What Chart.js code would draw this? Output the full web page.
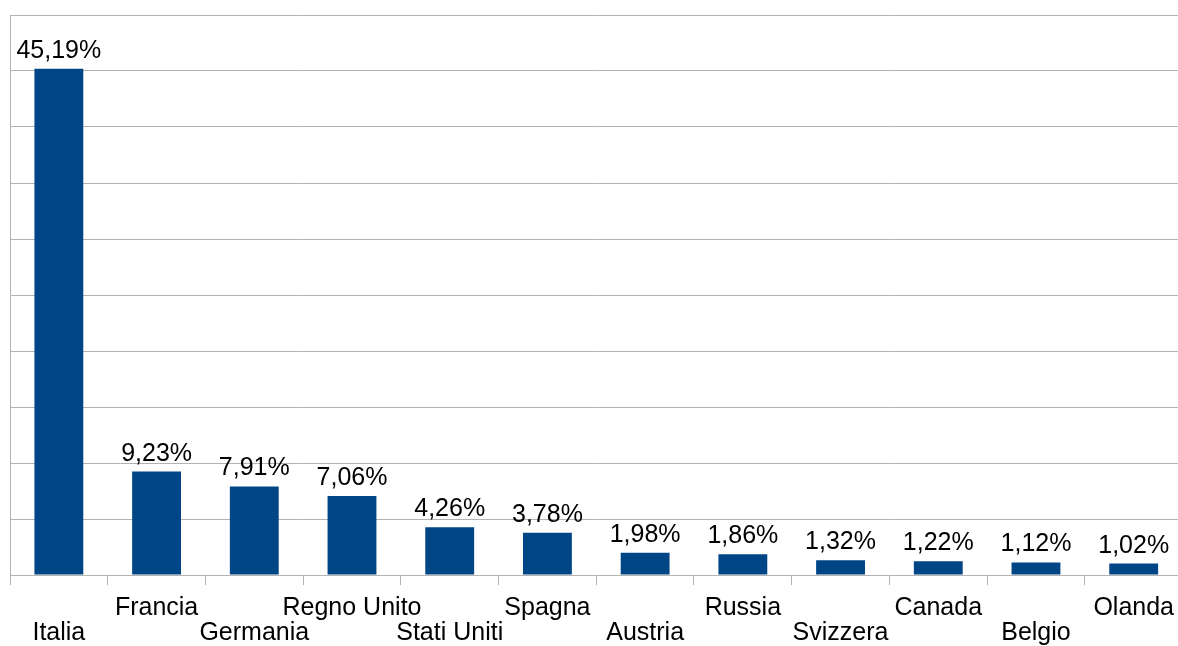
<!DOCTYPE html>
<html>
<head>
<meta charset="utf-8">
<script src="https://cdn.jsdelivr.net/npm/chart.js@4/dist/chart.umd.min.js"></script>
<style>
  html, body { margin: 0; padding: 0; background: #fff; overflow: hidden; }
  #wrap { width: 1185px; height: 657px; position: relative; }
</style>
</head>
<body>
<div id="wrap"><canvas id="barChart"></canvas></div>
<script>
const countries = ["Italia", "Francia", "Germania", "Regno Unito", "Stati Uniti", "Spagna",
  "Austria", "Russia", "Svizzera", "Canada", "Belgio", "Olanda"];
const shares = [45.19, 9.23, 7.91, 7.06, 4.26, 3.78, 1.98, 1.86, 1.32, 1.22, 1.12, 1.02];
const yTicks = [0, 5, 10, 15, 20, 25, 30, 35, 40, 45, 50];

const fmt = v => v.toFixed(2).replace(".", ",") + "%";

// value labels above each bar
const valueLabels = {
  id: "valueLabels",
  afterDatasetsDraw(chart) {
    const ctx = chart.ctx;
    const meta = chart.getDatasetMeta(0);
    ctx.save();
    ctx.font = "25px 'Liberation Sans', Arial, sans-serif";
    ctx.fillStyle = "#000";
    ctx.textAlign = "center";
    ctx.textBaseline = "alphabetic";
    meta.data.forEach((bar, i) => {
      ctx.fillText(fmt(shares[i]), bar.x, bar.y - 11);
    });
    ctx.restore();
  }
};

let ctx = document.getElementById("barChart").getContext("2d");
let myChart = new Chart(ctx, {
  type: "bar",
  data: {
    labels: countries,
    datasets: [{
      data: shares,
      backgroundColor: "#004586",
      barPercentage: 0.5,
      categoryPercentage: 1
    }]
  },
  options: {
    responsive: true,
    maintainAspectRatio: false,
    animation: false,
    layout: { padding: { top: 15, left: 10, right: 0, bottom: 0 } },
    plugins: { legend: { display: false }, tooltip: { enabled: false } },
    scales: {
      x: {
        grid: { drawOnChartArea: false, color: "#b3b3b3", tickLength: 10, offset: true },
        border: { color: "#b3b3b3" },
        ticks: {
          color: "#000",
          font: { family: "'Liberation Sans', Arial, sans-serif", size: 25, lineHeight: "25px" },
          padding: 11,
          maxRotation: 0,
          minRotation: 0,
          autoSkip: false,
          callback: (v, i) => i % 2 === 0 ? ["", countries[i]] : [countries[i], ""]
        }
      },
      y: {
        min: 0,
        max: 50,
        afterBuildTicks: axis => { axis.ticks = yTicks.map(v => ({ value: v })); },
        grid: { color: "#b3b3b3", drawTicks: false },
        border: { color: "#b3b3b3" },
        ticks: { display: false }
      }
    }
  },
  plugins: [valueLabels]
});
</script>
</body>
</html>
